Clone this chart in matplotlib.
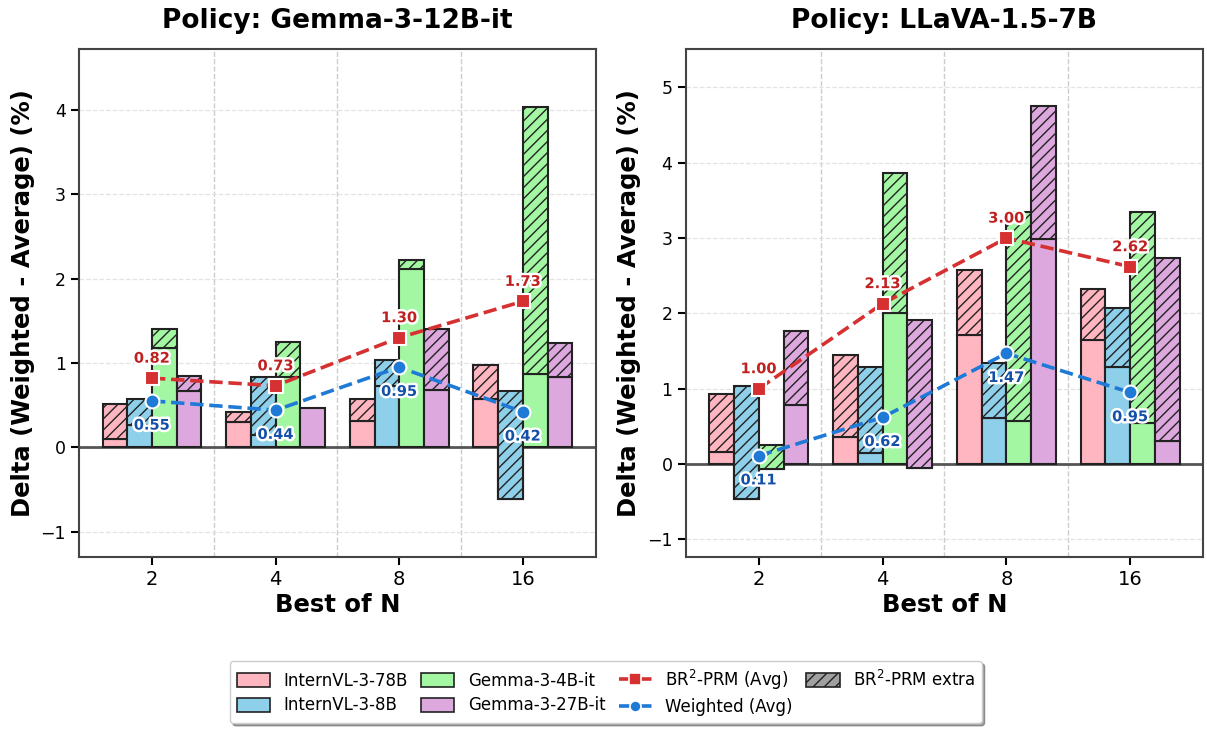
import matplotlib
matplotlib.use('Agg')
import matplotlib.pyplot as plt
import matplotlib.patheffects as pe
from matplotlib.patches import Patch
from matplotlib.lines import Line2D
import numpy as np

# ---------------- data ----------------
best_of_n = ['2', '4', '8', '16']
models = ['InternVL-3-78B', 'InternVL-3-8B', 'Gemma-3-4B-it', 'Gemma-3-27B-it']
policies = ['Policy: Gemma-3-12B-it', 'Policy: LLaVA-1.5-7B']

# Policy Gemma-3-12B-it
gemma_weighted_78b = [0.10, 0.30, 0.31, 0.57]
gemma_weighted_8b = [0.26, 0.15, 0.73, -0.61]
gemma_weighted_4b = [1.18, 0.83, 2.11, 0.87]
gemma_weighted_27b = [0.67, 0.47, 0.68, 0.83]
gemma_br2_78b = [0.51, 0.42, 0.57, 0.98]
gemma_br2_8b = [0.57, 0.83, 1.03, 0.67]
gemma_br2_4b = [1.40, 1.25, 2.22, 4.03]
gemma_br2_27b = [0.84, 0.47, 1.40, 1.24]
gemma_br2_avg = [0.82, 0.73, 1.30, 1.73]
gemma_weighted_avg = [0.55, 0.44, 0.95, 0.42]

# Policy LLaVA-1.5-7B
llava_weighted_78b = [0.16, 0.36, 1.71, 1.65]
llava_weighted_8b = [-0.46, 0.15, 0.61, 1.29]
llava_weighted_4b = [-0.06, 2.01, 0.57, 0.55]
llava_weighted_27b = [0.78, -0.05, 2.99, 0.31]
llava_br2_78b = [0.93, 1.45, 2.58, 2.32]
llava_br2_8b = [1.04, 1.29, 1.34, 2.07]
llava_br2_4b = [0.25, 3.87, 3.35, 3.35]
llava_br2_27b = [1.76, 1.91, 4.75, 2.74]
llava_br2_avg = [1.00, 2.13, 3.00, 2.62]
llava_weighted_avg = [0.11, 0.62, 1.47, 0.95]

# ---------------- style ----------------
bar_colors = ['#FFB6C1', '#8ECFEA', '#A3F7A3', '#DDA8DE']
red_line = '#D63031'
blue_line = '#1E7AD6'
red_text = '#C0201F'
blue_text = '#1450A8'
edge = '#222222'
spine_col = '#444444'

plt.rcParams['font.family'] = ['DejaVu Sans']
plt.rcParams['hatch.linewidth'] = 1.0

fig = plt.figure(figsize=(12.07, 7.29), dpi=100)
ax_l = fig.add_axes([0.0655, 0.2359, 0.4281, 0.6968])
ax_r = fig.add_axes([0.5681, 0.2359, 0.4288, 0.6968])

panels = [
    (ax_l, policies[0],
     [gemma_weighted_78b, gemma_weighted_8b, gemma_weighted_4b, gemma_weighted_27b],
     [gemma_br2_78b, gemma_br2_8b, gemma_br2_4b, gemma_br2_27b],
     gemma_br2_avg, gemma_weighted_avg, (-1.30, 4.72)),
    (ax_r, policies[1],
     [llava_weighted_78b, llava_weighted_8b, llava_weighted_4b, llava_weighted_27b],
     [llava_br2_78b, llava_br2_8b, llava_br2_4b, llava_br2_27b],
     llava_br2_avg, llava_weighted_avg, (-1.235, 5.51)),
]

width = 0.2
offsets = [-0.3, -0.1, 0.1, 0.3]
x = np.arange(len(best_of_n))
stroke = [pe.withStroke(linewidth=3.5, foreground='white')]

for ax, title, weighted, br2, br_avg, w_avg, ylim in panels:
    for i, (w, b) in enumerate(zip(weighted, br2)):
        w = np.array(w)
        b = np.array(b)
        ax.bar(x + offsets[i], w, width, color=bar_colors[i], edgecolor=edge,
               linewidth=1.5, zorder=2)
        diff = b - w
        mask = np.abs(diff) > 1e-9
        ax.bar((x + offsets[i])[mask], diff[mask], width, bottom=w[mask],
               color=bar_colors[i], edgecolor=edge, linewidth=1.5, hatch='///',
               zorder=2)

    ax.plot(x, br_avg, color=red_line, ls='--', lw=2.6, marker='s', ms=9.5,
            mec='white', mew=1.5, zorder=5)
    ax.plot(x, w_avg, color=blue_line, ls='--', lw=2.6, marker='o', ms=10,
            mec='white', mew=1.5, zorder=5)
    for xi, v in zip(x, br_avg):
        ax.annotate(f'{v:.2f}', (xi, v), xytext=(0, 9), textcoords='offset points',
                    ha='center', va='bottom', fontsize=10.5, fontweight='bold',
                    color=red_text, path_effects=stroke, zorder=6)
    for xi, v in zip(x, w_avg):
        ax.annotate(f'{v:.2f}', (xi, v), xytext=(0, -12), textcoords='offset points',
                    ha='center', va='top', fontsize=10.5, fontweight='bold',
                    color=blue_text, path_effects=stroke, zorder=6)

    ax.axhline(0, color='#555555', lw=2, zorder=1.5)
    for sep in [0.5, 1.5, 2.5]:
        ax.axvline(sep, color='#cccccc', ls='--', lw=1, zorder=0)
    ax.yaxis.grid(True, ls='--', color='#e3e3e3', lw=0.9, zorder=0)
    ax.set_axisbelow(True)

    ax.set_xticks(x)
    ax.set_xticklabels(best_of_n)
    ax.set_xlim(-0.59, 3.59)
    ax.set_ylim(*ylim)
    ax.set_yticks(np.arange(-1, int(ylim[1]) + 1))
    ax.tick_params(axis='x', labelsize=14, length=6, width=1.5)
    ax.tick_params(axis='y', labelsize=12.5, length=6, width=1.5)
    for s in ax.spines.values():
        s.set_color(spine_col)
        s.set_linewidth(1.5)
    ax.set_title(title, fontsize=19, fontweight='bold', pad=15)
    ax.set_xlabel('Best of N', fontsize=17.5, fontweight='bold', labelpad=3)
    ax.set_ylabel('Delta (Weighted - Average) (%)', fontsize=17.5, fontweight='bold')

handles = [Patch(facecolor=bar_colors[i], edgecolor=edge, linewidth=1.2, label=models[i])
           for i in range(4)]
handles += [
    Line2D([0], [0], color=red_line, ls='--', lw=2.6, marker='s', ms=8,
           mec='white', mew=1.2, label='BR$^2$-PRM (Avg)'),
    Line2D([0], [0], color=blue_line, ls='--', lw=2.6, marker='o', ms=8,
           mec='white', mew=1.2, label='Weighted (Avg)'),
    Patch(facecolor='#A0A0A0', edgecolor=edge, hatch='///', linewidth=1.2,
          label='BR$^2$-PRM extra'),
]
leg = fig.legend(handles=handles, loc='center', bbox_to_anchor=(0.502, 0.0508),
                 ncol=4, fontsize=12, frameon=True, fancybox=True, shadow=True,
                 columnspacing=0.8, handletextpad=0.8, labelspacing=0.4,
                 handleheight=0.9)

fig.savefig('out.png', dpi=100)
